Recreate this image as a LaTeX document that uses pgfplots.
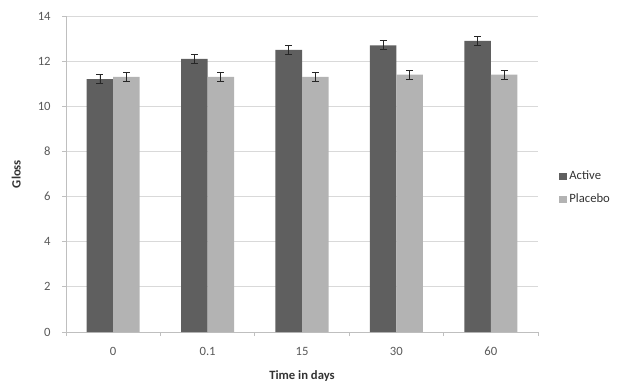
\documentclass[border=0pt]{standalone}
\usepackage{fontspec}
\setmainfont{Carlito}
\usepackage{pgfplots}
\pgfplotsset{compat=1.18}
\definecolor{cActive}{HTML}{5F5F5F}
\definecolor{cPlacebo}{HTML}{B3B3B3}
\definecolor{cGrid}{HTML}{D9D9D9}
\definecolor{cAxis}{HTML}{BFBFBF}
\definecolor{cText}{HTML}{595959}
\begin{document}
\begin{tikzpicture}[x=0.75pt,y=0.75pt]
\useasboundingbox (0,0) rectangle (620,387);
\begin{axis}[
  at={(49.5pt,41.25pt)}, anchor=south west,
  scale only axis, width=354pt, height=237pt,
  ybar=0pt, bar width=19.9pt,
  xmin=-0.5, xmax=4.5, ymin=0, ymax=14,
  xtick={0,1,2,3,4}, xticklabels={0,0.1,15,30,60},
  minor xtick={-0.5,0.5,1.5,2.5,3.5,4.5},
  major x tick style={draw=none},
  ytick={0,2,...,14},
  tick align=outside, tick pos=left,
  major tick length=3pt, minor tick length=3pt,
  tick style={cAxis, line width=0.6pt},
  ymajorgrids, grid style={cGrid, line width=0.75pt},
  axis x line*=bottom, axis y line*=left,
  axis line style={cAxis, line width=0.75pt, -},
  /pgf/number format/assume math mode=true,
  ticklabel style={font=\fontsize{9.5}{11}\selectfont, text=cText},
  xticklabel style={yshift=-5pt},
  yticklabel style={xshift=-5pt},
  xlabel={\textbf{Time in days}},
  ylabel={\textbf{Gloss}},
  label style={font=\fontsize{9.5}{11}\selectfont, text=black!80},
  xlabel style={yshift=-4pt},
  ylabel style={yshift=6pt},
  legend style={at={(1.036,0.456)}, anchor=west, draw=none, fill=none,
    font=\fontsize{9.5}{11}\selectfont, text=black!80, row sep=5pt,
    /tikz/every even column/.append style={column sep=2pt}},
  legend cell align=left,
  legend image code/.code={\fill[#1] (0pt,-2.8pt) rectangle (5.6pt,2.8pt);},
  error bars/y dir=both, error bars/y explicit,
  error bars/error bar style={black!85, line width=0.6pt},
  error bars/error mark options={black!85, mark size=2.6pt, line width=0.6pt, rotate=90},
  every axis plot/.append style={draw=none},
]
\addplot[fill=cActive, draw=none] coordinates {
  (0,11.2) +- (0,0.2)
  (1,12.1) +- (0,0.2)
  (2,12.5) +- (0,0.2)
  (3,12.7) +- (0,0.2)
  (4,12.9) +- (0,0.2)
};
\addplot[fill=cPlacebo, draw=none] coordinates {
  (0,11.3) +- (0,0.2)
  (1,11.3) +- (0,0.2)
  (2,11.3) +- (0,0.2)
  (3,11.4) +- (0,0.2)
  (4,11.4) +- (0,0.2)
};
\legend{Active,Placebo}
\end{axis}
\end{tikzpicture}
\end{document}
